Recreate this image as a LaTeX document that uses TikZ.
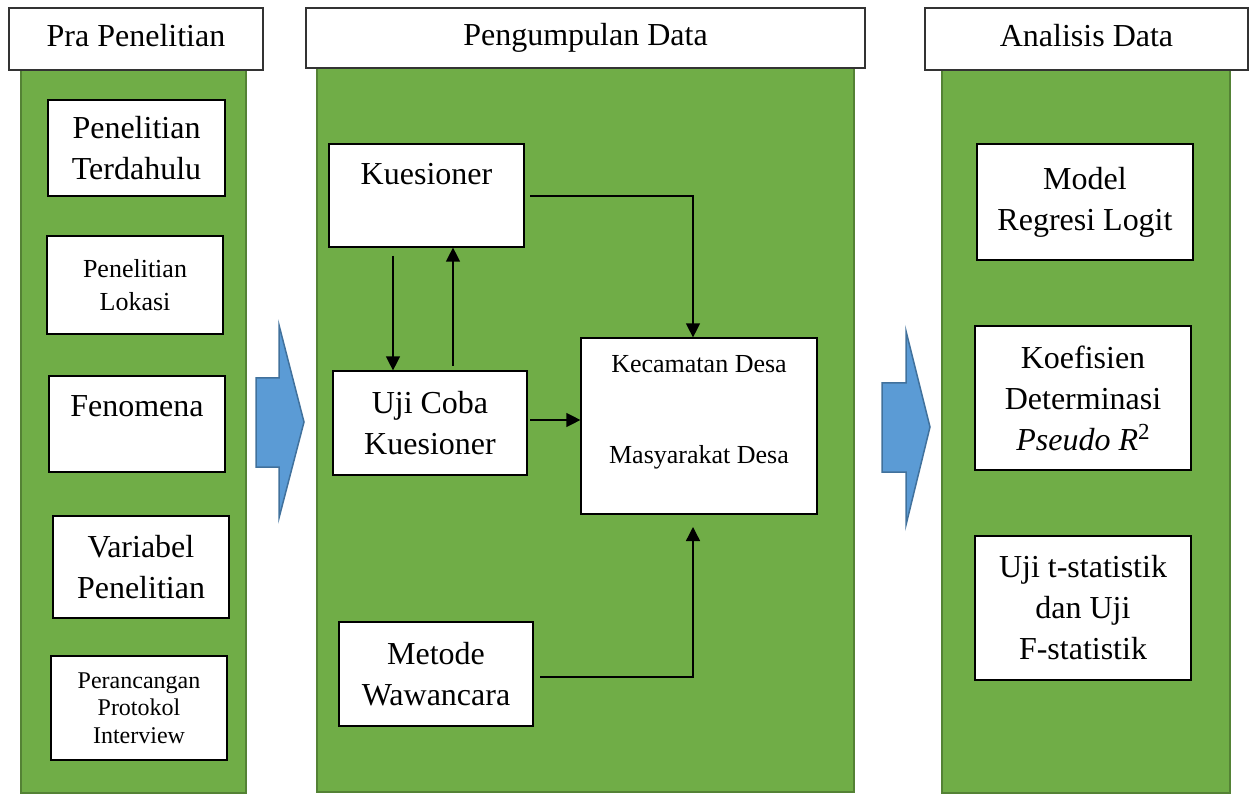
\documentclass[tikz,border=0pt]{standalone}
\usepackage{fontspec}
\setmainfont{Liberation Serif}
\usetikzlibrary{arrows.meta}
\definecolor{hijau}{HTML}{70AD47}
\definecolor{hijaugaris}{HTML}{548235}
\definecolor{biru}{HTML}{5B9BD5}
\definecolor{birugaris}{HTML}{41719C}
\newcommand{\besar}{\fontsize{32}{41}\selectfont}
\newcommand{\sedang}{\fontsize{26}{33}\selectfont}
\newcommand{\kecil}{\fontsize{24}{27.5}\selectfont}
\tikzset{
  panel/.style={fill=hijau, draw=hijaugaris, line width=1.5pt},
  judul/.style={draw=black!80, fill=white, line width=1.5pt, font=\besar, inner sep=0pt, text height=24pt, text depth=8pt},
  kotak/.style={draw=black, fill=white, line width=1.2pt, align=center, font=\besar, inner sep=0pt},
  ukuran/.style 2 args={minimum width=#1pt, minimum height=#2pt},
  tulisan/.style={align=center, font=\besar, inner sep=0pt},
  panah/.style={-{Triangle[length=14pt,width=14pt]}, line width=1.3pt},
  blok/.style={fill=biru, draw=birugaris, line width=1.5pt}
}
\begin{document}
\begin{tikzpicture}[x=1pt, y=-1pt]
\useasboundingbox (0,0) rectangle (1251,794);

\draw [panel] (21,70) rectangle (246,793);
\draw [panel] (317,68) rectangle (854,792);
\draw [panel] (942,70) rectangle (1230,793);

\node [judul, ukuran={254}{62}] (pra) at (136,39) {Pra Penelitian};
\node [judul, ukuran={559}{60}] (kumpul) at (585.5,38) {Pengumpulan Data};
\node [judul, ukuran={323}{62}] (analisis) at (1086.5,39) {Analisis Data};

% pra penelitian
\node [kotak, ukuran={177}{96}] (terdahulu) at (136.5,148) {Penelitian\\Terdahulu};
\node [kotak, ukuran={176}{98}, font=\sedang] (lokasi) at (135,285) {Penelitian\\Lokasi};
\node [kotak, ukuran={176}{96}] (fenomena) at (137,424) {};
\node [tulisan] (fenomenaT) at (137,406) {Fenomena};
\node [kotak, ukuran={176}{102}] (variabel) at (141,567) {Variabel\\Penelitian};
\node [kotak, ukuran={176}{104}, font=\kecil] (protokol) at (139,708) {Perancangan\\Protokol\\Interview};

% pengumpulan data
\node [kotak, ukuran={195}{103}] (kuesioner) at (426.5,195.5) {};
\node [tulisan] (kuesionerT) at (426.5,174) {Kuesioner};
\node [kotak, ukuran={194}{104}] (ujicoba) at (430,423) {Uji Coba\\Kuesioner};
\node [kotak, ukuran={236}{176}] (desa) at (699,426) {};
\node [tulisan, font=\sedang] (kecamatan) at (699,364) {Kecamatan Desa};
\node [tulisan, font=\sedang] (masyarakat) at (699,457) {Masyarakat Desa};
\node [kotak, ukuran={194}{104}] (wawancara) at (436,674) {Metode\\Wawancara};

% analisis data
\node [kotak, ukuran={216}{116}] (logit) at (1085,202) {Model\\Regresi Logit};
\node [kotak, ukuran={216}{144}] (koefisien) at (1083,398) {Koefisien\\Determinasi\\\textit{Pseudo R}\raisebox{11pt}{\fontsize{23}{23}\selectfont 2}};
\node [kotak, ukuran={216}{144}] (ujistat) at (1083,608) {Uji t-statistik\\dan Uji\\F-statistik};

\coordinate (k1) at (393,256);
\coordinate (k2) at (453,366);
\coordinate (k3) at (530,196);
\coordinate (k4) at (530,420);
\coordinate (k5) at (540,677);
\coordinate (k6) at (693,527);
\draw [panah] (k1) -- (k1 |- ujicoba.north);
\draw [panah] (k2) -- (k2 |- kuesioner.south);
\draw [panah] (k3) -| ([xshift=-6pt]desa.north);
\draw [panah] (k4) -- (k4 -| desa.west);
\draw [panah] (k5) -| (k6);

\draw [blok] (256,378) -- (279,378) -- (279,325) -- (304,422) -- (279,518) -- (279,467) -- (256,467) -- cycle;
\draw [blok] (882,383) -- (906,383) -- (906,331) -- (930,427) -- (906,525) -- (906,472) -- (882,472) -- cycle;
\end{tikzpicture}
\end{document}
